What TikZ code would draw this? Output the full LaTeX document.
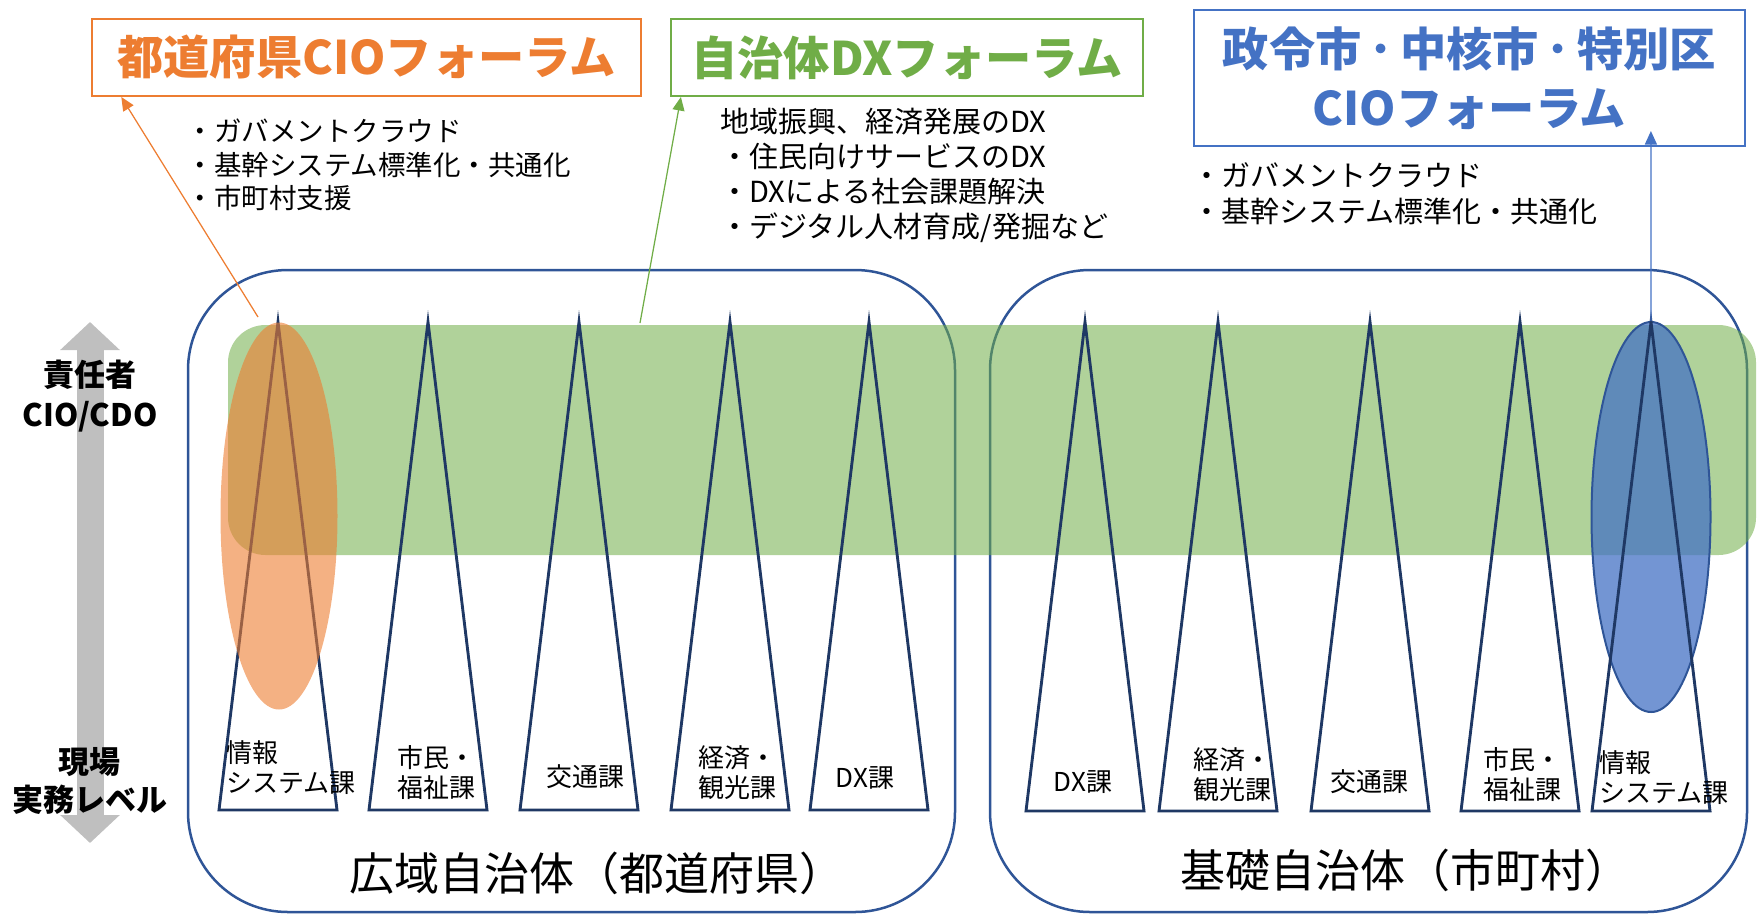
\documentclass[tikz,border=0pt]{standalone}
\usepackage{fontspec}
\setmainfont{Noto Sans CJK JP}
\usetikzlibrary{arrows.meta,shapes.geometric,calc}

\definecolor{prefOrange}{HTML}{ED7D31}
\definecolor{dxGreen}{HTML}{70AD47}
\definecolor{cityBlue}{HTML}{4472C4}
\definecolor{frameBlue}{HTML}{2F5597}
\definecolor{triNavy}{HTML}{1F3864}
\definecolor{levelGrey}{HTML}{BFBFBF}

\tikzset{
  titlebox/.style={draw, line width=0.8pt, inner sep=0pt, align=center,
    font=\bfseries\fontsize{18.5}{23.6}\selectfont},
  bullets/.style={align=left, inner sep=0pt, anchor=west},
  tri/.style={draw=triNavy, line width=1.15pt},
  frame/.style={draw=frameBlue, line width=1pt, rounded corners=40pt},
  dept/.style={align=left, inner sep=0pt, font=\fontsize{10.4}{12}\selectfont},
  areatext/.style={inner sep=0pt, font=\fontsize{18}{22}\selectfont},
  leveltext/.style={align=center, inner sep=0pt, font=\bfseries\fontsize{12.4}{16}\selectfont},
  levelarrow/.style={draw=levelGrey, line width=10.8pt,
    {Triangle[length=11.2pt,width=23.2pt]}-{Triangle[length=11.2pt,width=23.2pt]}},
  forumarrow/.style={line width=0.5pt, -{Triangle[length=5.4pt,width=4.8pt]}}
}

\begin{document}
\begin{tikzpicture}[x=0.4pt,y=0.4pt,yscale=-1,xscale=1]
\useasboundingbox (0,0) rectangle (1757,914);

%Shape: Rounded Rectangle
\draw [frame] (188,270) rectangle (955,912) ;
%Shape: Rounded Rectangle
\draw [frame] (990,270) rectangle (1747,912) ;

%Shape: Rounded Rectangle
\fill [dxGreen, fill opacity=0.55, rounded corners=15pt] (228,325) rectangle (1756,555) ;

%Shape: Ellipse
\node [ellipse, draw=frameBlue, line width=0.8pt, fill=cityBlue, fill opacity=0.75, draw opacity=1,
  minimum width=47.6pt, minimum height=156pt, inner sep=0pt] (cityEll) at (1651,517) {} ;

%Shape: Triangle
\draw [tri] (278,322) -- (219,810) -- (337,810) -- cycle ;
%Shape: Triangle
\draw [tri] (428,322) -- (369,810) -- (487,810) -- cycle ;
%Shape: Triangle
\draw [tri] (579,322) -- (520,810) -- (638,810) -- cycle ;
%Shape: Triangle
\draw [tri] (730,322) -- (671,810) -- (789,810) -- cycle ;
%Shape: Triangle
\draw [tri] (869,322) -- (810,810) -- (928,810) -- cycle ;
%Shape: Triangle
\draw [tri] (1085,322) -- (1026,811) -- (1144,811) -- cycle ;
%Shape: Triangle
\draw [tri] (1218,322) -- (1159,811) -- (1277,811) -- cycle ;
%Shape: Triangle
\draw [tri] (1370,322) -- (1311,811) -- (1429,811) -- cycle ;
%Shape: Triangle
\draw [tri] (1520,322) -- (1461,811) -- (1579,811) -- cycle ;
%Shape: Triangle
\draw [tri] (1651,322) -- (1592,811) -- (1710,811) -- cycle ;

%Shape: Ellipse
\node [ellipse, fill=prefOrange, fill opacity=0.6,
  minimum width=46.8pt, minimum height=154.8pt, inner sep=0pt] (prefEll) at (279,516) {} ;

%Up Down Arrow
\coordinate (levelTop) at (90,322) ;
\coordinate (levelBottom) at (90,843) ;
\draw [levelarrow] (levelTop) -- (levelBottom) ;

% Text Node
\node [titlebox, draw=prefOrange, text=prefOrange, minimum width=219.6pt, minimum height=30.8pt] (cioPref) at (366.5,57.5) {都道府県CIOフォーラム};
% Text Node
\node [titlebox, draw=dxGreen, text=dxGreen, minimum width=188.8pt, minimum height=30.8pt] (dxForum) at (907,57.5) {自治体DXフォーラム};
% Text Node
\node [titlebox, draw=cityBlue, text=cityBlue, minimum width=220.4pt, minimum height=54.4pt] (cioCity) at (1469.5,78) {政令市\,･\,中核市\,･\,特別区\\CIOフォーラム};

% Text Node
\node [bullets, font=\fontsize{11}{13.4}\selectfont] (prefList) at (186,165) {・ガバメントクラウド\\・基幹システム標準化・共通化\\・市町村支援};
% Text Node
\node [bullets, font=\fontsize{11.6}{14}\selectfont] (dxList) at (720,175) {地域振興、経済発展のDX\\・住民向けサービスのDX\\・DXによる社会課題解決\\・デジタル人材育成/発掘など};
% Text Node
\node [bullets, font=\fontsize{11.6}{14.4}\selectfont] (cityList) at (1192,194) {・ガバメントクラウド\\・基幹システム標準化・共通化};

%Straight Lines
\coordinate (prefFoot) at (258,317) ;
\draw [forumarrow, prefOrange] (prefFoot) -- ($(cioPref.south west)!0.055!(cioPref.south east)$) ;
%Straight Lines
\coordinate (bandFoot) at (640,323) ;
\draw [forumarrow, dxGreen] (bandFoot) -- ($(dxForum.south west)!0.023!(dxForum.south east)$) ;
%Straight Lines
\draw [forumarrow, cityBlue] (cityEll.north) -- ($(cioCity.south west)!0.828!(cioCity.south east) + (0,-16)$) ;

% Text Node
\node [leveltext] (chief) at (90,396) {責任者\\CIO/CDO};
% Text Node
\node [leveltext, font=\bfseries\fontsize{12.4}{15.2}\selectfont] (field) at (90,781) {現場\\実務レベル};

% Text Node
\node [dept, anchor=west] (prefInfo) at (226,768) {情報\\システム課};
% Text Node
\node [dept, anchor=west] (prefCitizen) at (397,773) {市民・\\福祉課};
% Text Node
\node [dept] (prefTraffic) at (585,777) {交通課};
% Text Node
\node [dept, anchor=west] (prefEcon) at (698,773) {経済・\\観光課};
% Text Node
\node [dept] (prefDx) at (865,778) {DX課};
% Text Node
\node [dept] (cityDx) at (1083,782) {DX課};
% Text Node
\node [dept, anchor=west] (cityEcon) at (1193,775) {経済・\\観光課};
% Text Node
\node [dept] (cityTraffic) at (1369,782) {交通課};
% Text Node
\node [dept, anchor=west] (cityCitizen) at (1483,775) {市民・\\福祉課};
% Text Node
\node [dept, anchor=west] (cityInfo) at (1599,778) {情報\\システム課};

% Text Node
\node [areatext] (wideArea) at (597,873) {広域自治体（都道府県）};
% Text Node
\node [areatext] (baseArea) at (1405,870) {基礎自治体（市町村）};

\end{tikzpicture}
\end{document}
